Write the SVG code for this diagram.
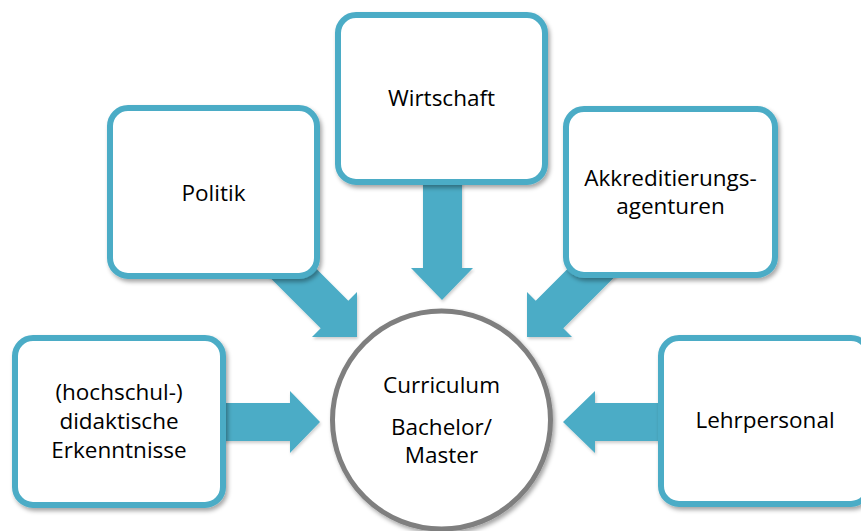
<svg xmlns="http://www.w3.org/2000/svg" width="861" height="531" viewBox="0 0 861 531">
  <defs>
    <filter id="sh" x="-20%" y="-20%" width="140%" height="140%">
      <feDropShadow dx="2" dy="3" stdDeviation="2.2" flood-color="#000" flood-opacity="0.35"/>
    </filter>
    <filter id="sha" x="-20%" y="-20%" width="140%" height="140%">
      <feDropShadow dx="1" dy="2" stdDeviation="1.5" flood-color="#000" flood-opacity="0.2"/>
    </filter>
  </defs>
  <style>
    .box { fill: #ffffff; stroke: #4BACC6; stroke-width: 6; filter: url(#sh); }
    .arrow { fill: #4BACC6; filter: url(#sha); }
    .circ { fill: #ffffff; stroke: #7F7F7F; stroke-width: 5; filter: url(#sh); }
    text { font-family: "Open Sans", "Liberation Sans", sans-serif; font-size: 22.5px; fill: #000000; text-anchor: middle; }
  </style>
  <rect width="861" height="531" fill="#ffffff"/>

  <g id="connectors">
    <!-- Wirtschaft down -->
    <polygon class="arrow" points="423,170 462,170 462,268 473,268 442,300 411,268 423,268"/>
    <!-- hochschul right -->
    <polygon class="arrow" points="210,403 290,403 290,391 320,422 290,453 290,441 210,441"/>
    <!-- Lehrpersonal left -->
    <polygon class="arrow" points="675,403 595,403 595,391 563,422 595,453 595,441 675,441"/>
    <!-- Politik diagonal -->
    <polygon class="arrow" points="278.3,230.7 348.3,300.7 357,292 357,337 312,337 320.7,328.3 250.7,258.3"/>
    <!-- Akkreditierung diagonal -->
    <polygon class="arrow" points="605.7,230.7 535.7,300.7 527,292 527,337 572,337 563.3,328.3 633.3,258.3"/>
  </g>

  <g id="node-wirtschaft">
    <rect class="box" x="338" y="15" width="207" height="167" rx="18"/>
    <text x="441.5" y="106">Wirtschaft</text>
  </g>
  <g id="node-politik">
    <rect class="box" x="110" y="108" width="207" height="168" rx="18"/>
    <text x="213.5" y="201">Politik</text>
  </g>
  <g id="node-akkreditierung">
    <rect class="box" x="566" y="109" width="209" height="166" rx="18"/>
    <text x="670.5" y="186">Akkreditierungs-</text>
    <text x="670.5" y="214">agenturen</text>
  </g>
  <g id="node-didaktik">
    <rect class="box" x="15" y="338" width="208" height="167" rx="18"/>
    <text x="119" y="400">(hochschul-)</text>
    <text x="119" y="428.5">didaktische</text>
    <text x="119" y="457.5">Erkenntnisse</text>
  </g>
  <g id="node-lehrpersonal">
    <rect class="box" x="661" y="338" width="208" height="166" rx="18"/>
    <text x="765" y="428">Lehrpersonal</text>
  </g>
  <g id="node-curriculum">
    <circle class="circ" cx="441.5" cy="420" r="109"/>
    <text x="441.5" y="393">Curriculum</text>
    <text x="441.5" y="435">Bachelor/</text>
    <text x="441.5" y="463">Master</text>
  </g>
</svg>
